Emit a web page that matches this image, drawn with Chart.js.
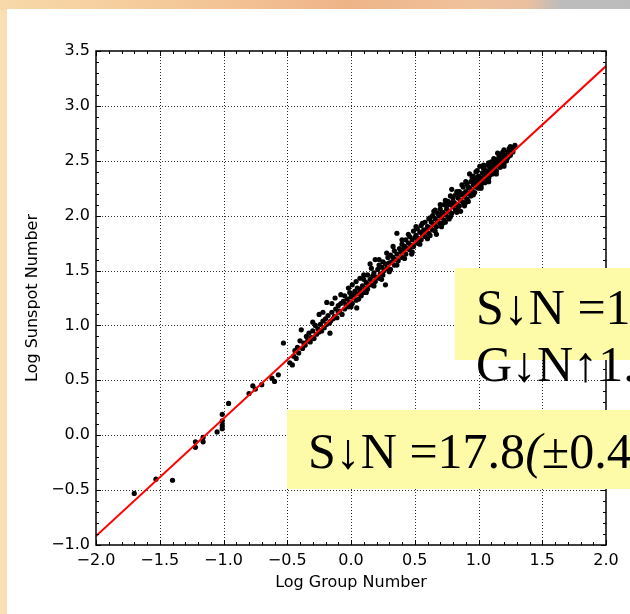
<!DOCTYPE html>
<html>
<head>
<meta charset="utf-8">
<script src="https://cdn.jsdelivr.net/npm/chart.js@4"></script>
<style>
  html, body { margin: 0; padding: 0; }
  body { width: 630px; height: 614px; overflow: hidden; position: relative; background: #f9dfb3; }
  #topStrip { position: absolute; left: 0; top: 0; width: 630px; height: 10px;
    background: linear-gradient(to right, #f8d9a9 0%, #f3c495 35%, #eeb488 55%, #f0c29c 75%, #e9bfa0 84%, #bcbcbc 89%, #bbbbbb 100%); }
  #panel { position: absolute; left: 7px; top: 9px; width: 623px; height: 605px; background: #fff; }
  #plot { position: absolute; left: 0; top: 0; }
  .box { position: absolute; background: #fdfaa8; }
  .eq { position: absolute; font-family: "Liberation Serif", serif; font-size: 50px; line-height: 50px;
    white-space: nowrap; color: #000; }
  .eq i { font-style: italic; }
</style>
</head>
<body>
<div id="topStrip"></div>
<div id="panel"></div>
<canvas id="plot" width="630" height="614"></canvas>
<div class="box" style="left:455px; top:268px; width:175px; height:92px;"></div>
<div class="eq" style="left:476px; top:282px;">S↓N =11</div>
<div class="eq" style="left:476px; top:339px;">G↓N↑1.0</div>
<div class="box" style="left:287px; top:410px; width:343px; height:79px;"></div>
<div class="eq" style="left:308px; top:426px;">S↓N =17.8<i>(</i>±0.4</div>
<script>
// axis ticks
const xTicks = [-2.0, -1.5, -1.0, -0.5, 0.0, 0.5, 1.0, 1.5, 2.0];
const yTicks = [-1.0, -0.5, 0.0, 0.5, 1.0, 1.5, 2.0, 2.5, 3.0, 3.5];

// fitted line (log S = a + b log G), read at both plot edges
const fitX = [-2.0, 2.0];
const fitY = [-0.918, 3.363];

// sparse low-activity points
const tailPoints = [
  [-1.70,-0.53],[-1.53,-0.40],[-1.40,-0.41],[-1.22,-0.06],[-1.22,-0.11],[-1.16,-0.02],
  [-1.16,-0.06],[-1.05,0.03],[-1.01,0.19],[-1.01,0.13],[-1.01,0.09],[-1.01,0.06],
  [-0.96,0.29],[-0.80,0.38],[-0.77,0.45],[-0.75,0.42],[-0.70,0.46],[-0.62,0.52],
  [-0.60,0.49],[-0.57,0.55],[-0.53,0.84],[-0.48,0.66],[-0.46,0.64]
];

// dense cloud
const densePoints = [
  [-0.45,0.72],[-0.44,0.77],[-0.43,0.70],[-0.42,0.80],[-0.41,0.75],[-0.40,0.86],
  [-0.39,0.96],[-0.38,0.79],[-0.37,0.84],[-0.36,0.82],[-0.35,0.90],[-0.34,0.86],
  [-0.33,0.93],[-0.32,0.85],[-0.31,0.89],[-0.30,0.95],[-0.29,0.88],[-0.28,1.00],
  [-0.27,0.92],[-0.26,0.97],[-0.25,1.10],[-0.25,0.94],[-0.24,1.01],[-0.23,0.95],
  [-0.22,1.04],[-0.21,0.98],[-0.20,1.06],[-0.19,1.21],[-0.19,1.01],[-0.18,1.09],
  [-0.17,1.02],[-0.16,1.04],[-0.165,0.93],[-0.15,1.12],[-0.14,1.06],[-0.125,1.25],
  [-0.13,1.08],[-0.12,1.15],[-0.11,1.07],[-0.10,1.12],[-0.10,1.18],[-0.09,1.13],
  [-0.08,1.20],[-0.07,1.10],[-0.06,1.22],[-0.05,1.15],[-0.05,1.27],[-0.04,1.19],
  [-0.03,1.24],[-0.02,1.17],[-0.01,1.30],[-0.01,1.21],[0.00,1.26],[0.01,1.20],
  [0.01,1.37],[0.02,1.28],[0.03,1.31],[0.04,1.23],[0.045,1.16],[0.05,1.34],
  [0.06,1.29],[0.07,1.43],[0.07,1.33],[0.08,1.27],[0.09,1.36],[0.10,1.30],
  [0.10,1.42],[0.11,1.34],[0.12,1.39],[0.13,1.33],[0.13,1.46],[0.14,1.37],
  [0.15,1.56],[0.15,1.42],[0.16,1.37],[0.17,1.45],[0.18,1.48],[0.19,1.60],
  [0.19,1.40],[0.20,1.44],[0.21,1.51],[0.22,1.43],[0.22,1.55],[0.23,1.47],
  [0.24,1.53],[0.25,1.46],[0.25,1.58],[0.26,1.50],[0.27,1.37],[0.27,1.56],
  [0.28,1.52],[0.29,1.62],[0.30,1.57],[0.31,1.51],[0.31,1.64],[0.32,1.58],
  [0.33,1.62],[0.34,1.55],[0.34,1.68],[0.35,1.60],[0.36,1.84],[0.36,1.65],
  [0.37,1.59],[0.38,1.70],[0.39,1.67],[0.40,1.62],[0.40,1.74],[0.41,1.69],
  [0.42,1.72],[0.43,1.65],[0.43,1.78],[0.44,1.70],[0.45,1.75],[0.46,1.69],
  [0.46,1.81],[0.47,1.73],[0.476,1.65],[0.48,1.78],[0.49,1.86],[0.49,1.72],
  [0.50,1.80],[0.51,1.82],[0.52,1.75],[0.52,1.88],[0.53,1.79],[0.54,1.85],
  [0.55,1.78],[0.55,1.91],[0.56,1.83],[0.57,1.87],[0.58,1.81],[0.58,1.94],
  [0.59,1.86],[0.60,1.90],[0.61,1.84],[0.61,1.97],[0.62,1.89],[0.62,1.82],
  [0.63,1.94],[0.64,1.87],[0.64,2.00],[0.65,1.92],[0.65,2.04],[0.66,1.97],
  [0.67,1.90],[0.67,1.83],[0.68,2.02],[0.68,1.95],[0.69,2.00],[0.70,1.93],
  [0.70,2.06],[0.71,1.98],[0.71,1.90],[0.72,2.03],[0.73,1.96],[0.73,2.10],
  [0.74,2.01],[0.74,1.94],[0.75,2.06],[0.76,1.99],[0.76,2.13],[0.77,2.04],
  [0.77,1.97],[0.78,2.10],[0.79,2.24],[0.79,2.02],[0.80,2.08],[0.80,2.16],
  [0.81,2.12],[0.82,2.05],[0.82,2.19],[0.83,2.10],[0.83,2.03],[0.84,2.16],
  [0.85,2.09],[0.85,2.22],[0.86,2.04],[0.86,2.14],[0.87,2.19],[0.88,2.12],
  [0.88,2.26],[0.89,2.17],[0.89,2.09],[0.90,2.22],[0.91,2.15],[0.91,2.29],
  [0.92,2.20],[0.92,2.13],[0.93,2.25],[0.93,2.38],[0.94,2.18],[0.94,2.31],
  [0.95,2.23],[0.96,2.28],[0.96,2.36],[0.97,2.21],[0.97,2.33],[0.98,2.26],
  [0.99,2.31],[0.99,2.41],[1.00,2.25],[1.00,2.36],[1.01,2.29],[1.01,2.45],
  [1.02,2.34],[1.02,2.27],[1.03,2.39],[1.03,2.31],[1.04,2.43],[1.05,2.37],
  [1.05,2.30],[1.06,2.41],[1.06,2.34],[1.07,2.46],[1.08,2.40],[1.08,2.34],
  [1.09,2.44],[1.09,2.37],[1.10,2.49],[1.11,2.43],[1.11,2.38],[1.12,2.47],
  [1.12,2.40],[1.13,2.51],[1.14,2.46],[1.14,2.41],[1.15,2.57],[1.15,2.49],
  [1.16,2.53],[1.17,2.48],[1.17,2.44],[1.18,2.56],[1.18,2.50],[1.19,2.58],
  [1.20,2.52],[1.20,2.47],[1.21,2.55],[1.22,2.50],[1.23,2.58],[1.23,2.53],
  [1.24,2.61],[1.25,2.55],[1.26,2.60],[1.27,2.58],[1.286,2.64],[1.27,2.62]
];

// upper and lower fringe of the cloud
const fringePoints = [
  [0.62,1.98],[0.66,2.05],[0.70,2.10],[0.74,2.14],[0.78,2.18],[0.83,2.22],
  [0.87,2.28],[0.90,2.31],[0.95,2.35],[0.98,2.40],[1.04,2.46],[1.08,2.48],
  [1.12,2.52],[1.16,2.56],[1.20,2.60],[1.25,2.63],[0.56,1.93],[0.51,1.90],
  [0.45,1.83],[0.40,1.78],[0.33,1.72],[0.28,1.66],[0.22,1.60],[0.16,1.52],
  [0.10,1.46],[0.04,1.40],[-0.02,1.34],[-0.08,1.28],[-0.15,1.20],[-0.22,1.12],
  [-0.30,1.03],[0.60,1.79],[0.66,1.86],[0.72,1.93],[0.78,1.99],[0.84,2.06],
  [0.90,2.12],[0.96,2.19],[1.02,2.25],[1.08,2.31],[1.14,2.38],[1.20,2.45],
  [0.54,1.74],[0.48,1.67],[0.42,1.61],[0.36,1.55],[0.30,1.49],[0.24,1.42],
  [0.18,1.36],[0.12,1.30],[0.06,1.24],[0.00,1.17],[0.71,2.02],[0.75,2.09],
  [0.79,2.12],[0.84,2.19],[0.88,2.20],[0.92,2.26],[0.97,2.29],[1.01,2.33],
  [1.04,2.38],[1.10,2.44],[1.13,2.45],[1.19,2.53]
];

const toXY = p => ({ x: p[0], y: p[1] });
const fmt = v => (v < 0 ? '\u2212' : '') + Math.abs(v).toFixed(1);

// dotted grid, inward ticks on all four sides, black frame (classic matplotlib look)
const mplFrame = {
  id: 'mplFrame',
  beforeDatasetsDraw(chart) {
    const { ctx, chartArea: a, scales: { x, y } } = chart;
    ctx.save();
    ctx.strokeStyle = 'rgba(0,0,0,0.8)';
    ctx.lineWidth = 1;
    ctx.setLineDash([1, 2]);
    ctx.beginPath();
    xTicks.forEach(v => {
      const p = Math.round(x.getPixelForValue(v)) + 0.5;
      if (p <= a.left + 1 || p >= a.right - 1) return;
      ctx.moveTo(p, a.top); ctx.lineTo(p, a.bottom);
    });
    yTicks.forEach(v => {
      const p = Math.round(y.getPixelForValue(v)) + 0.5;
      if (p <= a.top + 1 || p >= a.bottom - 1) return;
      ctx.moveTo(a.left, p); ctx.lineTo(a.right, p);
    });
    ctx.stroke();
    ctx.restore();
  },
  afterDatasetsDraw(chart) {
    const { ctx, chartArea: a, scales: { x, y } } = chart;
    ctx.save();
    ctx.strokeStyle = '#000';
    ctx.lineWidth = 1;
    ctx.beginPath();
    const xMin = x.min, yMin = y.min;
    for (let i = 0; i <= 40; i++) {
      const v = xMin + i * 0.1;
      const len = i % 5 === 0 ? 5 : 3;
      const p = Math.round(x.getPixelForValue(v)) + 0.5;
      ctx.moveTo(p, a.bottom); ctx.lineTo(p, a.bottom - len);
      ctx.moveTo(p, a.top); ctx.lineTo(p, a.top + len);
    }
    for (let i = 0; i <= 45; i++) {
      const v = yMin + i * 0.1;
      const len = i % 5 === 0 ? 5 : 3;
      const p = Math.round(y.getPixelForValue(v)) + 0.5;
      ctx.moveTo(a.left, p); ctx.lineTo(a.left + len, p);
      ctx.moveTo(a.right, p); ctx.lineTo(a.right - len, p);
    }
    ctx.stroke();
    ctx.lineWidth = 1.5;
    ctx.strokeRect(a.left, a.top, a.right - a.left, a.bottom - a.top);
    ctx.restore();
  }
};

new Chart(document.getElementById('plot'), {
  type: 'scatter',
  data: {
    datasets: [
      {
        type: 'line',
        data: fitX.map((v, i) => ({ x: v, y: fitY[i] })),
        borderColor: '#ff0000',
        borderWidth: 2,
        pointRadius: 0,
        fill: false,
        order: 0
      },
      {
        data: tailPoints.concat(densePoints, fringePoints).map(toXY),
        backgroundColor: '#000',
        borderWidth: 0,
        pointRadius: 2.6,
        order: 1
      }
    ]
  },
  plugins: [mplFrame],
  options: {
    responsive: false,
    animation: false,
    devicePixelRatio: 1,
    layout: { padding: { top: 51, right: 24, bottom: 0, left: 0 } },
    plugins: { legend: { display: false }, tooltip: { enabled: false } },
    scales: {
      x: {
        type: 'linear', min: -2, max: 2,
        afterBuildTicks: s => { s.ticks = xTicks.map(v => ({ value: v })); },
        afterFit: s => { s.height = 69; },
        grid: { display: false, drawTicks: false },
        border: { display: false },
        ticks: { padding: 6, color: '#000', font: { family: 'DejaVu Sans', size: 16 }, callback: fmt, maxRotation: 0 },
        title: { display: true, text: 'Log Group Number', color: '#000',
          font: { family: 'DejaVu Sans', size: 16 }, padding: { top: 0, bottom: 22 } }
      },
      y: {
        type: 'linear', min: -1, max: 3.5,
        afterBuildTicks: s => { s.ticks = yTicks.map(v => ({ value: v })); },
        afterFit: s => { s.width = 96; },
        grid: { display: false, drawTicks: false },
        border: { display: false },
        ticks: { padding: 6, color: '#000', font: { family: 'DejaVu Sans', size: 16 }, callback: fmt },
        title: { display: true, text: 'Log Sunspot Number', color: '#000',
          font: { family: 'DejaVu Sans', size: 16 }, padding: { top: 23, bottom: 0 } }
      }
    }
  }
});
</script>
</body>
</html>
